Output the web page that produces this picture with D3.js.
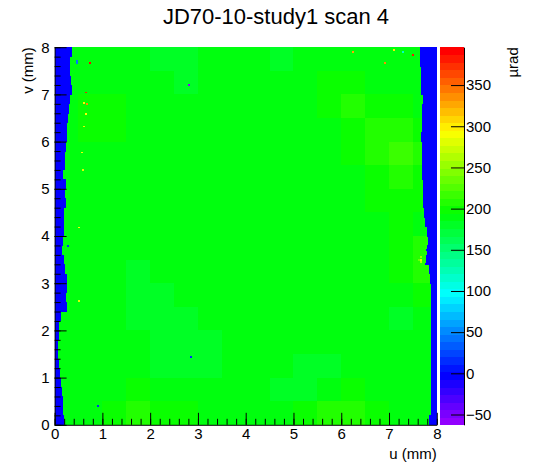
<!DOCTYPE html>
<html>
<head>
<meta charset="utf-8">
<script src="https://cdnjs.cloudflare.com/ajax/libs/d3/7.8.5/d3.min.js"></script>
<style>
  body { margin: 0; background: #fff; }
  text { font-family: "Liberation Sans", Arial, Helvetica, sans-serif; }
</style>
</head>
<body>
<div id="chart"></div>
<script>
// chart text
var title = "JD70-10-study1 scan 4";
var xTitle = "u (mm)";
var yTitle = "v (mm)";
var zTitle = "µrad";

// axis ranges and ticks
var uRange = [0, 8];
var vRange = [0, 8];
var axisTicks = [0, 1, 2, 3, 4, 5, 6, 7, 8];
var zRange = [-62.5, 396];
var zTicks = [-50, 0, 50, 100, 150, 200, 250, 300, 350];
var nContours = 50;

// interior values (µrad), 0.5 mm cells, rows from v=8 (top) down to v=0
var gridValues = [
  [190,186,190,190,182,182,190,190,186,180,190,194,192,190,188,188],
  [190,192,194,190,186,184,190,190,190,188,190,198,198,192,190,190],
  [190,198,198,192,190,186,190,190,190,190,190,196,205,200,195,192],
  [190,195,195,192,190,188,188,190,190,190,190,192,202,210,205,195],
  [190,192,192,190,190,190,188,190,190,190,190,190,196,206,214,205],
  [190,190,190,190,190,190,190,190,190,190,190,190,192,198,206,200],
  [190,190,190,190,190,190,190,190,190,190,190,190,190,195,198,195],
  [190,188,190,190,190,190,190,190,190,190,190,190,190,192,195,190],
  [190,188,188,190,190,190,190,190,190,190,190,190,190,192,200,205],
  [190,188,186,184,186,188,190,190,190,190,190,190,190,190,198,210],
  [190,190,186,183,183,186,190,190,190,190,190,190,190,186,188,195],
  [190,190,188,184,180,182,188,190,190,190,190,190,190,186,184,190],
  [190,190,190,186,180,178,184,190,190,190,188,186,186,188,186,190],
  [190,190,190,188,184,178,180,188,190,186,182,180,188,190,190,190],
  [190,192,194,196,192,188,186,190,188,184,184,190,196,194,190,190],
  [190,194,198,205,200,195,190,190,190,192,196,206,208,198,192,190]
];

// sensor edges per 0.2 mm row (top to bottom): u where the signal starts / stops
var leftEdge = [0.36,0.33,0.32,0.34,0.36,0.33,0.31,0.29,0.27,0.27,
                0.24,0.22,0.22,0.17,0.24,0.22,0.24,0.20,0.20,0.19,
                0.17,0.16,0.19,0.22,0.25,0.26,0.24,0.26,0.14,0.10,
                0.09,0.07,0.07,0.09,0.12,0.13,0.15,0.18,0.17,0.19];
var rightEdge = [7.64,7.65,7.66,7.66,7.67,7.71,7.69,7.68,7.68,7.67,
                 7.68,7.69,7.69,7.70,7.71,7.72,7.72,7.74,7.76,7.79,
                 7.82,7.80,7.78,7.84,7.86,7.87,7.87,7.87,7.87,7.87,
                 7.87,7.87,7.87,7.87,7.87,7.87,7.87,7.87,7.87,7.83];
var edgeValue = 0;

// isolated bins [u, v, value]
var speckles = [
  [0.74,7.67,390],[0.66,7.04,380],[0.67,6.79,340],[0.62,6.81,300],
  [0.66,6.58,290],[0.62,6.32,285],[0.58,5.77,290],[0.60,5.40,285],
  [0.51,4.18,290],[0.51,2.62,280],[0.46,7.70,40],[0.46,7.66,40],
  [2.82,7.19,-55],[2.85,1.44,20],[0.91,0.40,20],[0.29,3.79,20],
  [6.25,7.89,330],[6.91,7.67,340],[7.50,7.83,380],[7.10,7.95,300],
  [7.30,7.90,120],[7.66,3.50,285],[7.66,3.44,265],[7.66,3.56,255],
  [7.62,3.50,235],[7.80,3.70,0],[7.78,3.40,0]
];

var W = 546, H = 472;
var svg = d3.select("#chart").append("svg")
  .attr("width", W)
  .attr("height", H);

var x = d3.scaleLinear().domain(uRange).range([54.6, 436.8]);
var y = d3.scaleLinear().domain(vRange).range([424.8, 47.2]);
var zy = d3.scaleLinear().domain(zRange).range([424.8, 47.2]);

// ROOT "pretty" palette: 50 colours, hue 280 -> 0
function paletteColor(i) {
  var hue = 280 - (i + 1) * (280 / nContours);
  return d3.hsl(hue, 1, 0.5).toString();
}
function color(z) {
  var i = Math.floor((z - zRange[0]) / (zRange[1] - zRange[0]) * nContours);
  i = Math.max(0, Math.min(nContours - 1, i));
  return paletteColor(i);
}

var plot = svg.append("g").attr("shape-rendering", "crispEdges");

// interior cells
var cells = [];
gridValues.forEach(function(row, r) {
  row.forEach(function(val, c) {
    cells.push({u0: c * 0.5, u1: (c + 1) * 0.5, v0: 8 - (r + 1) * 0.5, v1: 8 - r * 0.5, z: val});
  });
});
plot.selectAll("rect.cell")
  .data(cells)
  .enter().append("rect")
  .attr("class", "cell")
  .attr("x", function(d) { return x(d.u0); })
  .attr("y", function(d) { return y(d.v1); })
  .attr("width", function(d) { return x(d.u1) - x(d.u0) + 0.5; })
  .attr("height", function(d) { return y(d.v0) - y(d.v1) + 0.5; })
  .style("fill", function(d) { return color(d.z); });

// edges outside the sensor
var edges = [];
leftEdge.forEach(function(e, r) {
  var vt = 8 - r * 0.2, vb = vt - 0.2;
  edges.push({u0: 0, u1: e, v0: vb, v1: vt});
  edges.push({u0: rightEdge[r], u1: 8, v0: vb, v1: vt});
});
plot.selectAll("rect.edge")
  .data(edges)
  .enter().append("rect")
  .attr("class", "edge")
  .attr("x", function(d) { return x(d.u0); })
  .attr("y", function(d) { return y(d.v1); })
  .attr("width", function(d) { return x(d.u1) - x(d.u0); })
  .attr("height", function(d) { return y(d.v0) - y(d.v1) + 0.5; })
  .style("fill", color(edgeValue));

plot.selectAll("rect.speck")
  .data(speckles)
  .enter().append("rect")
  .attr("class", "speck")
  .attr("x", function(d) { return x(d[0] - 0.02); })
  .attr("y", function(d) { return y(d[1] + 0.02); })
  .attr("width", function(d) { return x(0.04) - x(0); })
  .attr("height", function(d) { return y(0) - y(0.04); })
  .style("fill", function(d) { return color(d[2]); });

// palette
var bandStep = (zRange[1] - zRange[0]) / nContours;
var bands = d3.range(nContours);
svg.append("g").attr("shape-rendering", "crispEdges")
  .selectAll("rect")
  .data(bands)
  .enter().append("rect")
  .attr("x", 439.5)
  .attr("width", 24.5)
  .attr("y", function(i) { return zy(zRange[0] + (i + 1) * bandStep); })
  .attr("height", function(i) { return zy(zRange[0] + i * bandStep) - zy(zRange[0] + (i + 1) * bandStep) + 0.5; })
  .style("fill", function(i) { return paletteColor(i); });

// axes
var minorTicks = d3.range(0, 8.0001, 0.2);

function styleAxis(g) {
  g.selectAll("path, line").attr("stroke", "#000").attr("stroke-width", 1);
  g.selectAll("text").style("font-size", "15px").attr("fill", "#000");
}

var xMinor = svg.append("g").attr("transform", "translate(0,424.8)")
  .call(d3.axisBottom(x).tickValues(minorTicks).tickSize(-6).tickSizeOuter(0).tickFormat(""));
xMinor.select(".domain").remove();
xMinor.selectAll("line").attr("stroke", "#000");

var xAxis = svg.append("g").attr("transform", "translate(0,424.8)")
  .call(d3.axisBottom(x).tickValues(axisTicks).tickSize(-12).tickSizeOuter(0).tickPadding(4).tickFormat(d3.format("d")));
styleAxis(xAxis);

var yMinor = svg.append("g").attr("transform", "translate(54.6,0)")
  .call(d3.axisLeft(y).tickValues(minorTicks).tickSize(-6).tickSizeOuter(0).tickFormat(""));
yMinor.select(".domain").remove();
yMinor.selectAll("line").attr("stroke", "#000");

var yAxis = svg.append("g").attr("transform", "translate(54.6,0)")
  .call(d3.axisLeft(y).tickValues(axisTicks).tickSize(-12).tickSizeOuter(0).tickPadding(5).tickFormat(d3.format("d")));
styleAxis(yAxis);

var zAxis = svg.append("g").attr("transform", "translate(464,0)")
  .call(d3.axisRight(zy).tickValues(zTicks).tickSize(-13).tickSizeOuter(0).tickPadding(2).tickFormat(d3.format("d")));
styleAxis(zAxis);

// titles
svg.append("text")
  .attr("x", 276).attr("y", 24)
  .attr("text-anchor", "middle")
  .style("font-size", "22px")
  .text(title);

svg.append("text")
  .attr("x", 436.8).attr("y", 459)
  .attr("text-anchor", "end")
  .style("font-size", "15px")
  .text(xTitle);

svg.append("text")
  .attr("transform", "translate(33,47.2) rotate(-90)")
  .attr("text-anchor", "end")
  .style("font-size", "15px")
  .text(yTitle);

svg.append("text")
  .attr("transform", "translate(518,47.2) rotate(-90)")
  .attr("text-anchor", "end")
  .style("font-size", "15px")
  .text(zTitle);
</script>
</body>
</html>
